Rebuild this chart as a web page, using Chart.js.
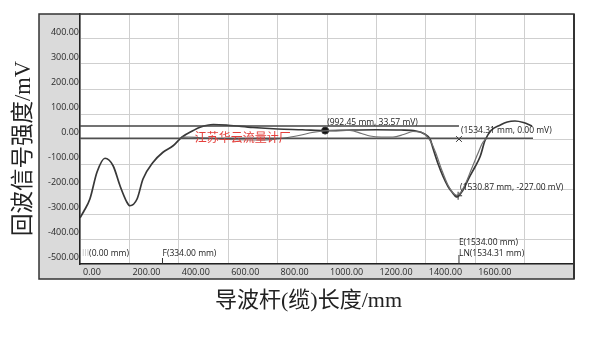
<!DOCTYPE html>
<html>
<head>
<meta charset="utf-8">
<script src="https://cdn.jsdelivr.net/npm/chart.js@4.4.1/dist/chart.umd.min.js"></script>
<style>
  html, body { margin: 0; padding: 0; background: #fff; }
  #wrap { width: 605px; height: 356px; position: relative; }
</style>
</head>
<body>
<div id="wrap"><canvas id="echoChart"></canvas></div>
<script>
// echo curve, mm / mV
const echoX = [0, 15, 40, 69, 101, 134, 162, 190, 202, 231, 255, 296, 336, 377, 412, 457, 486, 540, 600, 700, 800, 900, 992.45, 1100, 1200, 1300, 1360, 1395, 1417, 1430, 1450, 1470, 1490, 1506, 1526, 1550, 1575, 1600, 1620, 1640, 1665, 1700, 1730, 1761, 1795, 1830];
const echoY = [-315, -290, -240, -132, -77, -107, -187, -253, -267, -240, -160, -93, -53, -27, 7, 33, 47, 58, 55, 46, 40, 37, 33.57, 36, 37, 36, 32, 20, 0, -40, -100, -150, -190, -212, -232, -205, -155, -110, -70, -5, 35, 55, 68, 72, 66, 52];

// second (reference) curve
const refX = [412, 440, 486, 560, 650, 741, 820, 891, 940, 984, 1040, 1093, 1140, 1174, 1220, 1267, 1310, 1348, 1380, 1400, 1420, 1440, 1465, 1490, 1510, 1525, 1540, 1560, 1585, 1610, 1630, 1645];
const refY = [7, 8, 5, 0, -3, -4, 3, 15, 26, 32, 35, 34, 22, 12, 8, 8, 18, 30, 28, 15, -10, -55, -125, -185, -215, -225, -215, -180, -120, -60, -15, 3];

// threshold lines
const upperX = [0, 1534.31];
const upperY = [52, 52];
const lowerX = [0, 1834];
const lowerY = [3, 3];

// cursor points
const cursorX = [992.45, 1534.31, 1530.87];
const cursorY = [33.57, 0.00, -227.00];

// bottom markers
const markerNames = ['III', 'F', 'E', 'LN'];
const markerPos = [0, 334, 1534, 1534.31];

const yTicks = [-500, -400, -300, -200, -100, 0, 100, 200, 300, 400];
const xTicks = [0, 200, 400, 600, 800, 1000, 1200, 1400, 1600];

const yTitle = '回波信号强度/mV';
const xTitle = '导波杆(缆)长度/mm';
const watermark = '江苏华云流量计厂';

const toPts = (xs, ys) => xs.map((x, i) => ({x, y: ys[i]}));
const smallFont = '8.5px "Open Sans", sans-serif';

function frameRect(a) {
    return {left: a.left - 41, top: a.top, right: a.right, bottom: a.bottom + 15};
}

const frame = {
    id: 'frame',
    beforeDraw(chart) {
        const {ctx, chartArea: a} = chart;
        const f = frameRect(a);
        ctx.save();
        ctx.fillStyle = '#dadada';
        ctx.fillRect(f.left, f.top, f.right - f.left, f.bottom - f.top);
        ctx.fillStyle = '#fff';
        ctx.fillRect(a.left, a.top, a.width, a.height);
        ctx.restore();
    },
    afterDraw(chart) {
        const {ctx, chartArea: a, scales} = chart;
        const f = frameRect(a);
        const sx = scales.x, sy = scales.y;
        ctx.save();

        // outer frame
        ctx.strokeStyle = '#333';
        ctx.lineWidth = 1.5;
        ctx.strokeRect(f.left, f.top, f.right - f.left, f.bottom - f.top);
        ctx.lineWidth = 2;
        ctx.beginPath();
        ctx.moveTo(f.right, f.top);
        ctx.lineTo(f.right, f.bottom);
        ctx.stroke();

        // cursor labels
        ctx.font = smallFont;
        ctx.fillStyle = '#222';
        ctx.textBaseline = 'middle';
        ctx.textAlign = 'left';
        cursorX.forEach((x, i) => {
            const px = sx.getPixelForValue(x), py = sy.getPixelForValue(cursorY[i]);
            const txt = '(' + x.toFixed(2) + ' mm, ' + cursorY[i].toFixed(2) + ' mV)';
            ctx.fillText(txt, px + 2, py - 8);
        });

        // bottom markers
        ctx.strokeStyle = '#333';
        ctx.lineWidth = 1;
        markerPos.forEach((m, i) => {
            const px = sx.getPixelForValue(m);
            const row = markerNames[i] === 'E' ? 21 : 10;
            if (markerNames[i] === 'F' || markerNames[i] === 'LN') {
                ctx.beginPath();
                ctx.moveTo(px, a.bottom - (markerNames[i] === 'LN' ? 9 : 6));
                ctx.lineTo(px, a.bottom);
                ctx.stroke();
            }
            let tx = px + (i === 0 ? 2 : 0);
            ctx.fillStyle = i === 0 ? '#c4c4c4' : '#222';
            ctx.fillText(markerNames[i], tx, a.bottom - row);
            tx += ctx.measureText(markerNames[i]).width;
            ctx.fillStyle = '#222';
            ctx.fillText('(' + m.toFixed(2) + ' mm)', tx, a.bottom - row);
        });

        // watermark
        ctx.font = '12px "Noto Sans CJK SC", sans-serif';
        ctx.fillStyle = '#e5403c';
        ctx.fillText(watermark, sx.getPixelForValue(465), sy.getPixelForValue(8));

        // axis titles
        ctx.fillStyle = '#222';
        ctx.textAlign = 'center';
        ctx.font = '22px "Liberation Serif", "Noto Sans CJK SC", serif';
        ctx.fillText(xTitle, (f.left + f.right) / 2 + 2, f.bottom + 22);
        ctx.translate(f.left - 15, (f.top + f.bottom) / 2 + 2);
        ctx.rotate(-Math.PI / 2);
        ctx.font = '22.5px "Liberation Serif", "Noto Sans CJK SC", serif';
        ctx.fillText(yTitle, 0, 0);
        ctx.restore();
    }
};

const ctx = document.getElementById('echoChart').getContext('2d');
new Chart(ctx, {
    type: 'line',
    data: {
        datasets: [
            {
                label: 'upper',
                data: toPts(upperX, upperY),
                borderColor: '#444',
                borderWidth: 1.3,
                pointRadius: 0
            },
            {
                label: 'lower',
                data: toPts(lowerX, lowerY),
                borderColor: '#505050',
                borderWidth: 1.3,
                pointRadius: 0
            },
            {
                label: 'reference',
                data: toPts(refX, refY),
                borderColor: '#707070',
                borderWidth: 1.2,
                pointRadius: 0,
                cubicInterpolationMode: 'monotone'
            },
            {
                label: 'echo',
                data: toPts(echoX, echoY),
                borderColor: '#383838',
                borderWidth: 1.7,
                pointRadius: 0,
                cubicInterpolationMode: 'monotone'
            },
            {
                label: 'cursors',
                data: toPts(cursorX, cursorY),
                showLine: false,
                pointStyle: ['circle', 'crossRot', 'cross'],
                pointRadius: [3.5, 4, 4],
                pointBackgroundColor: '#111',
                pointBorderColor: '#333',
                pointBorderWidth: 1
            }
        ]
    },
    options: {
        responsive: true,
        maintainAspectRatio: false,
        animation: false,
        layout: { padding: { top: 14, right: 31, left: 0, bottom: 77 } },
        plugins: {
            legend: { display: false },
            tooltip: { enabled: false }
        },
        scales: {
            x: {
                type: 'linear',
                min: 0,
                max: 2000,
                afterFit: (s) => { s.height = 15; },
                afterBuildTicks: (s) => { s.ticks = [...xTicks, 1800, 2000].map(v => ({value: v})); },
                ticks: {
                    align: 'start',
                    labelOffset: 3,
                    padding: 3,
                    maxRotation: 0,
                    autoSkip: false,
                    color: '#2a2a2a',
                    font: { family: '"Open Sans", sans-serif', size: 9 },
                    callback: (v) => xTicks.includes(v) ? v.toFixed(2) : ''
                },
                grid: { color: '#cfcfcf', drawTicks: false },
                border: { color: '#222', width: 1.5 }
            },
            y: {
                min: -500,
                max: 500,
                afterFit: (s) => { s.width = 80; },
                afterBuildTicks: (s) => { s.ticks = [...yTicks, 500].map(v => ({value: v})); },
                ticks: {
                    labelOffset: -7,
                    padding: 1,
                    autoSkip: false,
                    color: '#2a2a2a',
                    font: { family: '"Open Sans", sans-serif', size: 9 },
                    callback: (v) => yTicks.includes(v) ? v.toFixed(2) : ''
                },
                grid: { color: '#cfcfcf', drawTicks: false },
                border: { color: '#222', width: 1.5 }
            }
        }
    },
    plugins: [frame]
});
</script>
</body>
</html>
